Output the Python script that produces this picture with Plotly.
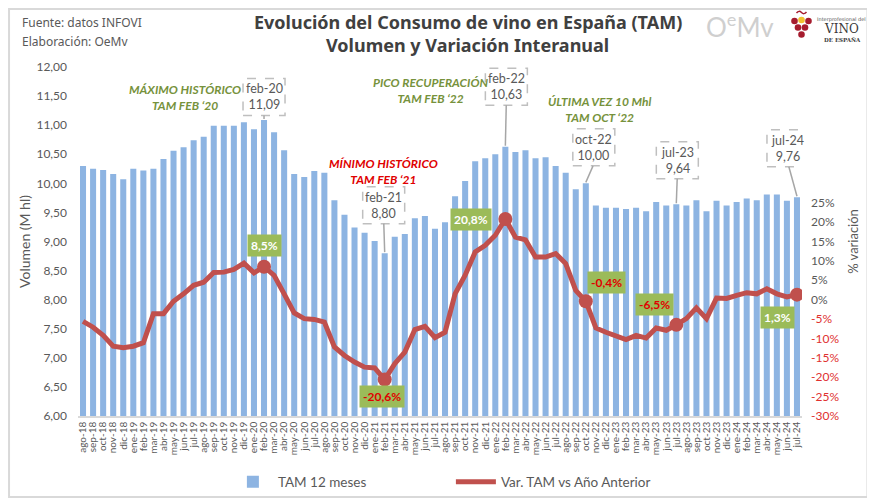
import plotly.graph_objects as go

# ---------------- DATA ----------------
months = ["ago-18", "sep-18", "oct-18", "nov-18", "dic-18",
          "ene-19", "feb-19", "mar-19", "abr-19", "may-19", "jun-19", "jul-19",
          "ago-19", "sep-19", "oct-19", "nov-19", "dic-19",
          "ene-20", "feb-20", "mar-20", "abr-20", "may-20", "jun-20", "jul-20",
          "ago-20", "sep-20", "oct-20", "nov-20", "dic-20",
          "ene-21", "feb-21", "mar-21", "abr-21", "may-21", "jun-21", "jul-21",
          "ago-21", "sep-21", "oct-21", "nov-21", "dic-21",
          "ene-22", "feb-22", "mar-22", "abr-22", "may-22", "jun-22", "jul-22",
          "ago-22", "sep-22", "oct-22", "nov-22", "dic-22",
          "ene-23", "feb-23", "mar-23", "abr-23", "may-23", "jun-23", "jul-23",
          "ago-23", "sep-23", "oct-23", "nov-23", "dic-23",
          "ene-24", "feb-24", "mar-24", "abr-24", "may-24", "jun-24", "jul-24"]

tam_volumen = [10.30, 10.25, 10.23, 10.16, 10.07,
               10.25, 10.22, 10.25, 10.42, 10.56, 10.62, 10.74,
               10.80, 10.99, 10.99, 10.99, 11.05,
               10.93, 11.09, 10.88, 10.57, 10.16, 10.11, 10.21,
               10.18, 9.71, 9.46, 9.24, 9.15,
               9.01, 8.80, 9.08, 9.13, 9.40, 9.44, 9.22,
               9.33, 9.78, 10.04, 10.38, 10.43,
               10.50, 10.63, 10.54, 10.57, 10.43, 10.45, 10.30,
               10.18, 9.90, 10.00, 9.62, 9.58,
               9.58, 9.56, 9.58, 9.52, 9.68, 9.62, 9.64,
               9.62, 9.71, 9.52, 9.70, 9.62,
               9.68, 9.74, 9.71, 9.81, 9.81, 9.70, 9.76]

var_tam = [-5.6, -7.1, -9.2, -12.0, -12.4,
           -12.0, -11.1, -3.6, -3.6, -0.4, 1.5, 3.7,
           4.5, 7.0, 7.1, 7.8, 9.4,
           6.9, 8.5, 6.3, 1.5, -3.4, -4.9, -5.1,
           -5.8, -12.2, -14.4, -16.1, -17.4,
           -17.6, -20.6, -16.5, -13.5, -7.7, -6.9, -9.8,
           -8.4, 1.5, 6.3, 12.3, 14.0,
           16.6, 20.8, 16.1, 15.4, 11.0, 11.0, 11.9,
           9.3, 2.4, -0.4, -7.3, -8.4,
           -9.2, -10.3, -9.2, -9.9, -7.3, -7.9, -6.5,
           -4.9, -2.1, -4.9, 0.4, 0.3,
           1.1, 1.8, 1.5, 2.8, 1.5, 0.7, 1.3]

hitos = ["feb-20", "feb-21", "feb-22", "oct-22", "jul-23", "jul-24"]

y_ticks_vol = [6.0, 6.5, 7.0, 7.5, 8.0, 8.5, 9.0, 9.5, 10.0, 10.5, 11.0, 11.5, 12.0]
y_ticks_pct = [-30, -25, -20, -15, -10, -5, 0, 5, 10, 15, 20, 25]

# ---------------- STYLE / LAYOUT ----------------
OFF = 8                      # page body margin of the html page
W, H = 875 - OFF, 500 - OFF  # figure size
# plot area in screen pixels: x 78..802.5, y 67..416
ML = 78 - OFF
MR = W - (802.5 - OFF)
MT = 67 - OFF
MB = H - (416 - OFF)
PW, PH = W - ML - MR, H - MT - MB

def fx(sx):  # screen x -> paper
    return (sx - OFF - ML) / PW

def fy(sy):  # screen y -> paper
    return (H - MB - (sy - OFF)) / PH

GRAY = "#595959"
BLUE = "#8DB4E2"
RED_LINE = "#C0504D"
GREEN_BG = "#9BBB59"
GREEN_TXT = "#76923C"
RED_TXT = "#E00000"
FONT = "Lato"

def fmt(v, d=2):
    return f"{v:.{d}f}".replace(".", ",")

idx = {m: i for i, m in enumerate(months)}

fig = go.Figure()
fig.add_trace(go.Bar(x=months, y=tam_volumen, name="TAM 12 meses",
                     marker=dict(color=BLUE, line=dict(width=0)), yaxis="y"))
fig.add_trace(go.Scatter(x=months, y=var_tam, name="Var. TAM vs Año Anterior",
                         mode="lines", line=dict(color=RED_LINE, width=5),
                         yaxis="y2"))
fig.add_trace(go.Scatter(x=hitos, y=[var_tam[idx[m]] for m in hitos],
                         mode="markers", marker=dict(color=RED_LINE, size=14),
                         yaxis="y2", showlegend=False, hoverinfo="skip"))

annotations = []
shapes = []

# value boxes (dashed) with leader lines: offsets of box centre in px (screen: +y down)
box_pos = {"feb-20": (0, -23), "feb-21": (-1, -48), "feb-22": (1, -60),
           "oct-22": (8, -36), "jul-23": (1, -44), "jul-24": (-9, -49)}
BW, BH = 42, 37
for m, (ax, ay) in box_pos.items():
    v = tam_volumen[idx[m]]
    annotations.append(dict(x=m, y=v, xref="x", yref="y", xshift=ax, yshift=-ay,
                            xanchor="center", yanchor="middle",
                            text=f"{m}<br>{fmt(v)}", showarrow=False,
                            font=dict(family=FONT, size=12.5, color=GRAY)))
    shapes.append(dict(type="rect", xref="x", yref="y", xsizemode="pixel",
                       ysizemode="pixel", xanchor=m, yanchor=v,
                       x0=ax - BW / 2, x1=ax + BW / 2,
                       y0=-ay - BH / 2, y1=-ay + BH / 2,
                       line=dict(color="#BFBFBF", width=1.5, dash="dash")))
    if -ay - BH / 2 > 2:
        shapes.append(dict(type="line", xref="x", yref="y", xsizemode="pixel",
                           ysizemode="pixel", xanchor=m, yanchor=v,
                           x0=ax * 0.9, x1=0, y0=-ay - BH / 2, y1=1,
                           line=dict(color="#A6A6A6", width=1.5)))

# percentage labels: offsets in px (+y up)
pct_pos = {"feb-20": (0, 21), "feb-21": (-3, -17), "feb-22": (-34, 0),
           "oct-22": (21, 19), "jul-23": (-22, 20), "jul-24": (-19, -23)}
for m, (dx, dy) in pct_pos.items():
    v = var_tam[idx[m]]
    col = "white" if v > 0 else RED_TXT
    annotations.append(dict(x=m, y=v, xref="x", yref="y2", xshift=dx, yshift=dy,
                            xanchor="center", yanchor="middle",
                            text=f"<b>{fmt(v, 1)}%</b>", showarrow=False,
                            bgcolor=GREEN_BG, borderpad=3,
                            font=dict(family=FONT, size=12, color=col)))

def txt(sx, sy, text, size, color, family=FONT, xanchor="center"):
    annotations.append(dict(x=fx(sx), y=fy(sy), xref="paper", yref="paper",
                            xanchor=xanchor, yanchor="middle",
                            text=text, showarrow=False, align="center",
                            font=dict(family=family, size=size, color=color)))

# highlight texts
txt(185, 97, "<b><i>MÁXIMO HISTÓRICO<br>TAM FEB ‘20</i></b>", 12, GREEN_TXT)
txt(384, 171, "<b><i>MÍNIMO HISTÓRICO<br>TAM FEB ‘21</i></b>", 12, RED_TXT)
txt(431, 90, "<b><i>PICO RECUPERACIÓN<br>TAM FEB ‘22</i></b>", 12, GREEN_TXT)
txt(600, 109, "<b><i>ÚLTIMA VEZ 10 Mhl<br>TAM OCT ‘22</i></b>", 12, GREEN_TXT)

# titles and source
txt(468, 22, "<b>Evolución del Consumo de vino en España (TAM)</b>", 18, "#404040", "Noto Sans")
txt(468, 45, "<b>Volumen y Variación Interanual</b>", 18, "#404040", "Noto Sans")
txt(20, 22, "Fuente: datos INFOVI", 12, GRAY, "Noto Sans", "left")
txt(20, 42, "Elaboración: OeMv", 12, GRAY, "Noto Sans", "left")

# logos (approximation)
txt(740, 25, "O<sup>e</sup>Mv", 26, "#CFCFCF")
txt(842, 19, "Interprofesional del", 5, "#555555", "DejaVu Sans")
txt(842, 28.5, "VINO", 12, "#3A3A3A", "DejaVu Serif")
txt(843, 39.5, "<b>DE ESPAÑA</b>", 5.5, "#3A3A3A", "DejaVu Serif")
grapes = [(795, 21, "#A61C2E"), (802, 20, "#F2C230"), (809, 21, "#A61C2E"),
          (798.5, 27.5, "#A61C2E"), (805.5, 27.5, "#A61C2E"), (802, 34.5, "#A61C2E")]
for gx, gy, gc in grapes:
    shapes.append(dict(type="circle", xref="paper", yref="paper",
                       x0=fx(gx - 3.3), x1=fx(gx + 3.3), y0=fy(gy + 3.3), y1=fy(gy - 3.3),
                       fillcolor=gc, line=dict(width=0)))
shapes.append(dict(type="path", xref="paper", yref="paper",
                   path=(f"M {fx(797)},{fy(13)} Q {fx(799.5)},{fy(10)} {fx(802)},{fy(12.5)} "
                         f"T {fx(807)},{fy(12)}"),
                   line=dict(color="#A61C2E", width=1.5)))

# outer border
shapes.append(dict(type="rect", xref="paper", yref="paper",
                   x0=fx(OFF + 1), x1=fx(868), y0=fy(497), y1=fy(OFF + 1),
                   line=dict(color="#D9D9D9", width=2), layer="below"))

pct_text = []
for t in y_ticks_pct:
    c = "#E03030" if t < 0 else GRAY
    pct_text.append(f"<span style='color:{c}'>{t}%</span>")

fig.update_layout(
    width=W, height=H,
    margin=dict(l=ML, r=MR, t=MT, b=MB, autoexpand=False),
    paper_bgcolor="white", plot_bgcolor="white",
    separators=",.",
    bargap=0.4,
    showlegend=True,
    font=dict(family=FONT, color=GRAY),
    xaxis=dict(type="category", range=[-0.5, len(months) - 0.5],
               tickmode="array", tickvals=months, ticktext=months,
               tickangle=-90, tickfont=dict(family=FONT, size=10, color=GRAY),
               showline=True, linecolor="#D9D9D9", linewidth=1.5,
               showgrid=False, ticks="", automargin=False),
    yaxis=dict(range=[6, 12], tickvals=y_ticks_vol,
               ticktext=[fmt(t) for t in y_ticks_vol],
               tickfont=dict(family=FONT, size=12, color=GRAY),
               showgrid=False, zeroline=False, showline=False, ticks="",
               automargin=False, ticklabelstandoff=10,
               title=dict(text="Volumen (M hl)", standoff=2,
                          font=dict(family=FONT, size=14, color=GRAY))),
    yaxis2=dict(range=[-30, 60], overlaying="y", side="right",
                tickvals=y_ticks_pct, ticktext=pct_text,
                tickfont=dict(family=FONT, size=12, color=GRAY),
                showgrid=False, zeroline=False, showline=False, ticks="",
                automargin=False, ticklabelstandoff=8,
                title=dict(text="% variación", standoff=10,
                           font=dict(family=FONT, size=13, color=GRAY))),
    legend=dict(orientation="h", x=fx(228), xanchor="left", y=fy(482),
                yanchor="middle", font=dict(family=FONT, size=13.5, color=GRAY),
                entrywidth=168, entrywidthmode="pixels",
                bgcolor="rgba(0,0,0,0)", itemwidth=40),
    annotations=annotations,
    shapes=shapes,
)

fig.write_html("out.html")
